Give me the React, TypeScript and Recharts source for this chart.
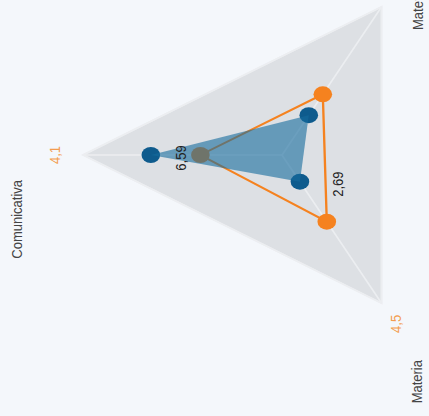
import React from 'react';
import { RadarChart, Radar, PolarGrid, PolarAngleAxis, PolarRadiusAxis } from 'recharts';

const subjects = ['Comunicativa', 'Matematica', 'Materia'];
const orangeScores = [4.1, 4.1, 4.5];
const blueScores = [6.59, 2.69, 1.8];

const data = subjects.map((subject, i) => ({
  subject,
  orange: orangeScores[i],
  blue: blueScores[i]
}));

// chart is drawn upright, then the whole box is turned a quarter left
const SIZE = 560;
const CX = SIZE / 2;
const CY = SIZE / 2;
const R = 171;

const fmt = (v: number) => String(v).replace('.', ',');

const nameOffsets = [
  { dx: -25, dy: -44, anchor: 'end' },
  { dx: -30, dy: 32, anchor: 'start' },
  { dx: -50, dy: 31, anchor: 'end' }
];

const blueOffsets = [
  { dx: -3, dy: 30 },
  { dx: -69, dy: 29 }
];

function AngleTick(props: any) {
  const { x, y, payload, index } = props;
  const len = Math.hypot(x - CX, y - CY) || 1;
  const ux = (x - CX) / len;
  const uy = (y - CY) / len;
  const o = nameOffsets[index] || { dx: 0, dy: 0, anchor: 'middle' };
  return (
    <g>
      <text
        x={CX + ux * (R + 24)}
        y={CY + uy * (R + 24)}
        textAnchor="middle"
        dominantBaseline="central"
        fill="#f39c4f"
        fontSize={13}
      >
        {fmt(orangeScores[index])}
      </text>
      <text x={x + o.dx} y={y + o.dy} textAnchor={o.anchor} fill="#444" fontSize={13}>
        {payload.value}
      </text>
    </g>
  );
}

function BlueLabel(props: any) {
  const { index, value } = props;
  const px = props.x ?? props.viewBox?.x;
  const py = props.y ?? props.viewBox?.y;
  const o = blueOffsets[index];
  if (!o || px == null || py == null) return null;
  return (
    <text x={px + o.dx} y={py + o.dy} textAnchor="middle" fill="#222" fontSize={13}>
      {fmt(Number(value))}
    </text>
  );
}

export default function App() {
  return (
    <div
      style={{
        position: 'absolute',
        left: 0,
        top: 0,
        width: 429,
        height: 416,
        overflow: 'hidden',
        background: '#f4f7fb',
        fontFamily: '"Liberation Sans", Arial, sans-serif'
      }}
    >
      <div
        style={{
          position: 'absolute',
          left: 282 - CX,
          top: 155 - CY,
          width: SIZE,
          height: SIZE,
          transform: 'rotate(-90deg) scale(1, 1.164)',
          transformOrigin: `${CX}px ${CY}px`
        }}
      >
        <RadarChart
          width={SIZE}
          height={SIZE}
          data={data}
          outerRadius={R}
          margin={{ top: 0, right: 0, bottom: 0, left: 0 }}
        >
          <PolarGrid
            gridType="polygon"
            polarRadius={[R]}
            stroke="#eceef1"
            strokeWidth={1.5}
            fill="#dde0e4"
            fillOpacity={1}
          />
          <PolarAngleAxis dataKey="subject" tick={AngleTick} tickLine={false} axisLine={false} />
          <PolarRadiusAxis domain={[0, 10]} tick={false} axisLine={false} />
          <Radar
            dataKey="orange"
            stroke="#f5821f"
            strokeWidth={2}
            fill="none"
            fillOpacity={0}
            dot={{ r: 8, fill: '#f5821f', stroke: 'none', fillOpacity: 1 }}
            isAnimationActive={false}
          />
          <Radar
            dataKey="blue"
            stroke="none"
            fill="#156a9c"
            fillOpacity={0.6}
            dot={{ r: 8, fill: '#0e5b8d', stroke: 'none', fillOpacity: 1 }}
            label={BlueLabel}
            zIndex={700}
            isAnimationActive={false}
          />
        </RadarChart>
      </div>
    </div>
  );
}
